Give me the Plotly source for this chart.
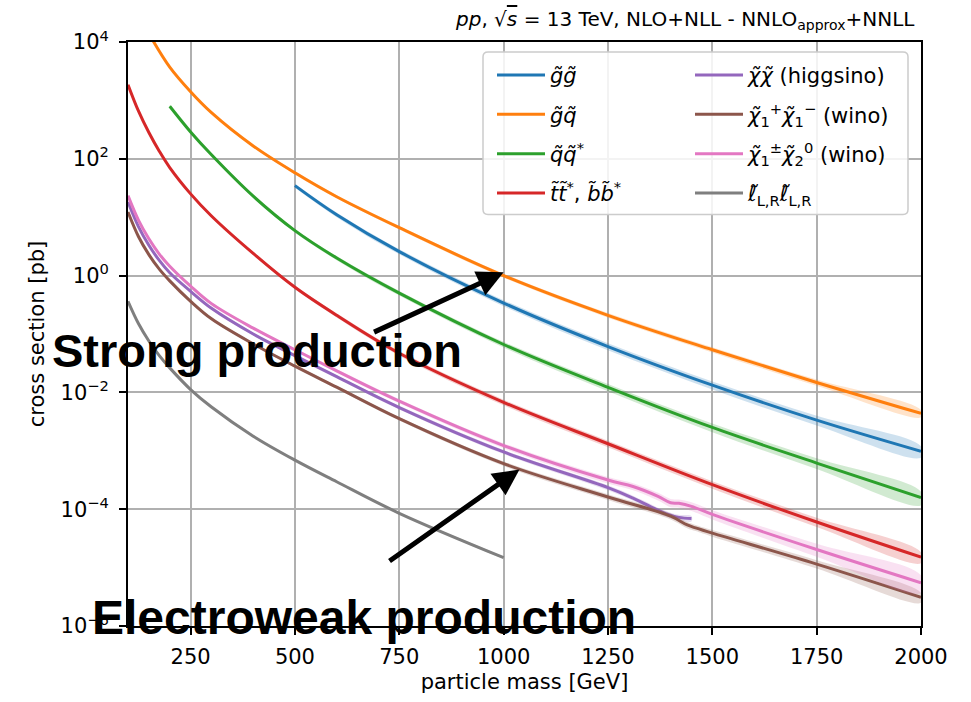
import plotly.graph_objects as go

# ---------------- data (cross sections in pb) ----------------
m_gg = [500, 600, 750, 1000, 1250, 1500, 1750, 2000]
xs_gg = [34.7, 11.0, 2.57, 0.339, 0.061, 0.0133, 0.00335, 0.00098]
unc_gg = [0.08, 0.09, 0.10, 0.12, 0.14, 0.16, 0.19, 0.22]

m_gq = [160, 200, 250, 300, 400, 500, 600, 750, 1000, 1250, 1500, 1750, 2000]
xs_gq = [10500, 3720, 1410, 617, 166, 57.5, 22.4, 6.61, 1.0, 0.209, 0.0537, 0.0148, 0.00437]
unc_gq = [0.05, 0.05, 0.05, 0.05, 0.05, 0.06, 0.06, 0.07, 0.08, 0.09, 0.10, 0.12, 0.14]

m_qq = [200, 250, 300, 400, 500, 600, 750, 1000, 1250, 1500, 1750, 2000]
xs_qq = [794, 288, 117, 22.9, 5.89, 2.0, 0.501, 0.0661, 0.0122, 0.00251, 0.000617, 0.000158]
unc_qq = [0.05, 0.05, 0.05, 0.06, 0.07, 0.08, 0.09, 0.11, 0.14, 0.17, 0.21, 0.26]

m_tt = [100, 125, 150, 175, 200, 250, 300, 400, 500, 600, 750, 1000, 1250, 1500, 1750, 2000]
xs_tt = [1860, 661, 282, 135, 70.8, 25.1, 10.5, 2.40, 0.631, 0.209, 0.0468, 0.00676,
         0.00132, 0.000263, 0.0000603, 0.0000151]
unc_tt = [0.05, 0.05, 0.05, 0.05, 0.05, 0.06, 0.06, 0.07, 0.07, 0.08, 0.09, 0.11, 0.13, 0.15, 0.18, 0.21]

m_hh = [100, 125, 150, 175, 200, 250, 300, 400, 500, 600, 750, 1000, 1250, 1310, 1390, 1420, 1450]
xs_hh = [18.2, 6.92, 3.31, 1.82, 1.12, 0.537, 0.275, 0.1, 0.0427, 0.0186, 0.0055, 0.000955,
         0.000234, 0.000155, 0.0000832, 0.0000724, 0.0000692]
unc_hh = [0.04, 0.04, 0.04, 0.04, 0.04, 0.04, 0.05, 0.05, 0.06, 0.06, 0.07, 0.08, 0.10, 0.10, 0.11, 0.11, 0.11]

m_c1c1 = [100, 125, 150, 175, 200, 250, 300, 400, 500, 600, 750, 1000, 1250, 1400, 1440, 1460,
          1500, 1750, 2000]
xs_c1c1 = [12.3, 4.68, 2.29, 1.29, 0.813, 0.363, 0.182, 0.0676, 0.0282, 0.0123, 0.00355, 0.000603,
           0.000162, 0.0000759, 0.0000537, 0.0000479, 0.0000389, 0.0000115, 0.0000031]
unc_c1c1 = [0.04, 0.04, 0.04, 0.04, 0.04, 0.04, 0.05, 0.05, 0.06, 0.06, 0.07, 0.09, 0.11, 0.12,
            0.12, 0.12, 0.13, 0.16, 0.19]

m_c1n2 = [100, 125, 150, 175, 200, 250, 300, 400, 500, 600, 750, 1000, 1250, 1310, 1370, 1400,
          1420, 1450, 1500, 1750, 2000]
xs_c1n2 = [23.4, 8.91, 4.27, 2.34, 1.45, 0.661, 0.331, 0.126, 0.0537, 0.0234, 0.00708, 0.00123,
           0.000316, 0.000245, 0.000166, 0.000129, 0.000126, 0.000112, 0.0000813, 0.0000204, 0.0000055]
unc_c1n2 = [0.04, 0.04, 0.04, 0.04, 0.04, 0.04, 0.05, 0.05, 0.06, 0.07, 0.08, 0.10, 0.13, 0.14,
            0.15, 0.16, 0.16, 0.17, 0.18, 0.25, 0.33]

m_ll = [100, 125, 150, 175, 200, 250, 300, 400, 500, 600, 750, 1000]
xs_ll = [0.363, 0.151, 0.0759, 0.0427, 0.0263, 0.0112, 0.00562, 0.00178, 0.000692,
         0.000295, 0.0000851, 0.0000148]
unc_ll = [0.01] * 12

names = [
    "<i>g\u0303g\u0303</i>",
    "<i>g\u0303q\u0303</i>",
    "<i>q\u0303q\u0303</i><sup>*</sup>",
    "<i>t\u0303t\u0303</i><sup>*</sup>, <i>b\u0303b\u0303</i><sup>*</sup>",
    "<i>\u03c7\u0303\u03c7\u0303</i> (higgsino)",
    "<i>\u03c7\u0303</i><sub>1</sub><sup>+</sup><i>\u03c7\u0303</i><sub>1</sub><sup>\u2212</sup> (wino)",
    "<i>\u03c7\u0303</i><sub>1</sub><sup>\u00b1</sup><i>\u03c7\u0303</i><sub>2</sub><sup>0</sup> (wino)",
    "<i>\u2113\u0303</i><sub>L,R</sub><i>\u2113\u0303</i><sub>L,R</sub>",
]
colors = ["#1f77b4", "#ff7f0e", "#2ca02c", "#d62728",
          "#9467bd", "#8c564b", "#e377c2", "#7f7f7f"]

x_ticks = [250, 500, 750, 1000, 1250, 1500, 1750, 2000]
y_ticks = [1e-6, 1e-4, 1e-2, 1e0, 1e2, 1e4]
y_ticktext = ["10<sup>\u22126</sup>", "10<sup>\u22124</sup>", "10<sup>\u22122</sup>",
              "10<sup>0</sup>", "10<sup>2</sup>", "10<sup>4</sup>"]

series = [
    (m_gg, xs_gg, unc_gg), (m_gq, xs_gq, unc_gq), (m_qq, xs_qq, unc_qq), (m_tt, xs_tt, unc_tt),
    (m_hh, xs_hh, unc_hh), (m_c1c1, xs_c1c1, unc_c1c1), (m_c1n2, xs_c1n2, unc_c1n2), (m_ll, xs_ll, unc_ll),
]


def rgba(hexc, a):
    h = hexc.lstrip("#")
    return "rgba(%d,%d,%d,%.2f)" % (int(h[0:2], 16), int(h[2:4], 16), int(h[4:6], 16), a)


fig = go.Figure()
for i, ((m, xs, unc), name, col) in enumerate(zip(series, names, colors)):
    leg = "legend" if i < 4 else "legend2"
    grp = "g%d" % i
    hi = [v * (1 + u) for v, u in zip(xs, unc)]
    lo = [v * (1 - u) for v, u in zip(xs, unc)]
    fig.add_trace(go.Scatter(
        x=list(m) + list(m)[::-1], y=hi + lo[::-1], fill="toself",
        fillcolor=rgba(col, 0.22), line=dict(width=0, shape="spline", smoothing=1.0),
        mode="lines", hoverinfo="skip", showlegend=False, legend=leg, legendgroup=grp))
    fig.add_trace(go.Scatter(
        x=m, y=xs, mode="lines", name=name,
        line=dict(color=col, width=3, shape="spline", smoothing=1.0),
        legend=leg, legendgroup=grp))

# plot-area pixel geometry (for paper-coordinate placement of decorations)
L, R, T, B = 128, 50, 42, 71
W, H = 971, 702
pw, ph = W - L - R, H - T - B


def px(xp):
    return (xp - L) / pw


def py(yp):
    return (H - B - yp) / ph


axis_common = dict(
    showgrid=True, gridcolor="#b0b0b0", gridwidth=1.6,
    showline=True, linecolor="black", linewidth=1.7, mirror=True,
    ticks="outside", ticklen=7, tickwidth=1.7, tickcolor="black",
    zeroline=False, tickfont=dict(size=21, color="black"),
)

fig.update_layout(
    width=W, height=H,
    margin=dict(l=L, r=R, t=T, b=B),
    paper_bgcolor="white", plot_bgcolor="white",
    font=dict(family="DejaVu Sans", size=21, color="black"),
    xaxis=dict(range=[100, 2000], tickvals=x_ticks, ticklabelstandoff=4,
               title=dict(text="particle mass [GeV]", font=dict(size=21), standoff=6),
               **axis_common),
    yaxis=dict(type="log", range=[-6, 4], tickvals=y_ticks, ticktext=y_ticktext,
               ticklabelstandoff=6,
               title=dict(text="cross section [pb]", font=dict(size=21), standoff=10),
               **axis_common),
    legend=dict(x=px(492), y=py(55), xanchor="left", yanchor="top",
                bgcolor="rgba(0,0,0,0)", borderwidth=0, traceorder="grouped",
                tracegroupgap=9, font=dict(size=21), itemwidth=48),
    legend2=dict(x=px(690), y=py(55), xanchor="left", yanchor="top",
                 bgcolor="rgba(0,0,0,0)", borderwidth=0, traceorder="grouped",
                 tracegroupgap=9, font=dict(size=21), itemwidth=48),
    showlegend=True,
)

# legend frame
x0, x1, y0, y1 = px(483), px(908), py(216), py(52)
rx, ry = 5 / pw, 5 / ph
path = (f"M{x0+rx},{y1} L{x1-rx},{y1} Q{x1},{y1} {x1},{y1-ry} L{x1},{y0+ry} "
        f"Q{x1},{y0} {x1-rx},{y0} L{x0+rx},{y0} Q{x0},{y0} {x0},{y0+ry} "
        f"L{x0},{y1-ry} Q{x0},{y1} {x0+rx},{y1} Z")
fig.add_shape(type="path", path=path, xref="paper", yref="paper",
              fillcolor="rgba(255,255,255,0.85)", line=dict(color="#cccccc", width=1.5),
              layer="above")

# title
fig.add_annotation(
    text="<i>pp</i>, \u221a<span style='text-decoration:overline'><i>s</i></span> = 13 TeV, NLO+NLL - NNLO<sub>approx</sub>+NNLL",
    xref="paper", yref="paper", x=px(917), y=py(20), xanchor="right", yanchor="middle",
    showarrow=False, font=dict(size=20, color="black"))

# arrows
fig.add_annotation(text="", x=1000, y=0.056, ax=686, ay=-0.98, xref="x", yref="y",
                   axref="x", ayref="y", showarrow=True, arrowhead=2, arrowsize=1.05,
                   arrowwidth=5, arrowcolor="black")
fig.add_annotation(text="", x=1038, y=-3.32, ax=723, ay=-4.905, xref="x", yref="y",
                   axref="x", ayref="y", showarrow=True, arrowhead=2, arrowsize=1.05,
                   arrowwidth=5, arrowcolor="black")

# labels
fig.add_annotation(text="<b>Strong production</b>", xref="paper", yref="paper",
                   x=px(50), y=py(353), xanchor="left", yanchor="middle", showarrow=False,
                   font=dict(family="Liberation Sans", size=47, color="black"))
fig.add_annotation(text="<b>Electroweak production</b>", xref="paper", yref="paper",
                   x=px(90), y=py(622), xanchor="left", yanchor="middle", showarrow=False,
                   font=dict(family="Liberation Sans", size=48, color="black"))

fig.write_html("out.html")
